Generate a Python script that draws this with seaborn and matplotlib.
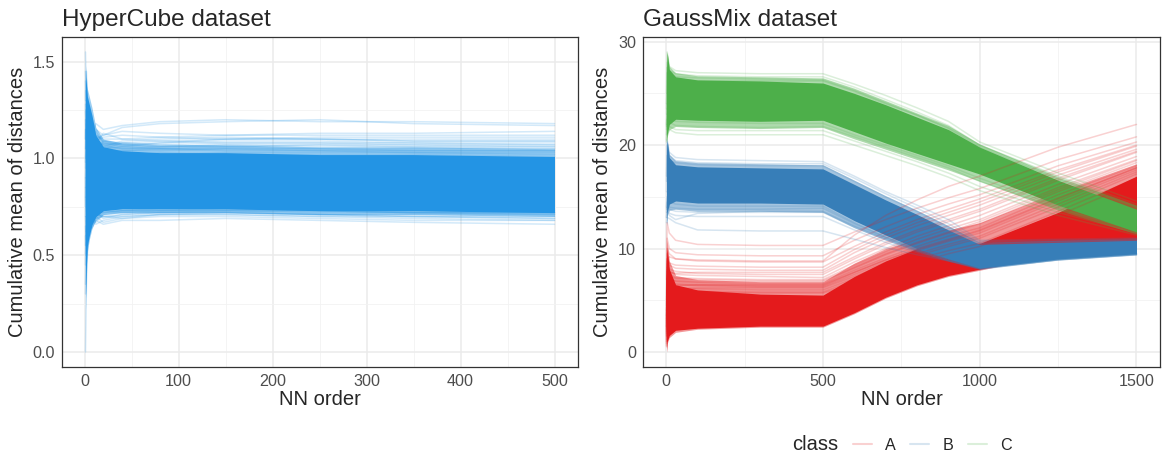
import pandas as pd
import matplotlib
matplotlib.use("Agg")
import matplotlib.pyplot as plt
from matplotlib.lines import Line2D
from matplotlib.ticker import MultipleLocator
import seaborn as sns

# ---------------- HyperCube panel ----------------
hc_x = [1, 2, 3, 5, 8, 12, 20, 40, 80, 150, 250, 350, 500]
# dense core of the bundle (where the lines merge to a solid colour)
hc_core_lo = [0.28, 0.45, 0.55, 0.60, 0.66, 0.70, 0.73, 0.74, 0.74, 0.74, 0.73, 0.73, 0.72]
hc_core_hi = [1.42, 1.38, 1.32, 1.28, 1.22, 1.12, 1.06, 1.04, 1.03, 1.03, 1.02, 1.02, 1.01]
# half-dense zone around the core
hc_halo_lo = [0.22, 0.40, 0.52, 0.58, 0.64, 0.68, 0.71, 0.72, 0.72, 0.72, 0.71, 0.71, 0.70]
hc_halo_hi = [1.48, 1.42, 1.36, 1.32, 1.26, 1.16, 1.10, 1.08, 1.07, 1.07, 1.06, 1.06, 1.05]
# single faint lines above the core
hc_upper = [
    [1.05, 1.20, 1.10, 1.15, 1.12, 1.18, 1.15, 1.17, 1.19, 1.20, 1.19, 1.19, 1.18],
    [0.90, 1.10, 1.25, 1.18, 1.20, 1.15, 1.12, 1.16, 1.18, 1.19, 1.20, 1.18, 1.17],
    [1.30, 1.45, 1.30, 1.22, 1.15, 1.10, 1.12, 1.14, 1.13, 1.12, 1.13, 1.13, 1.14],
    [1.55, 1.30, 1.20, 1.12, 1.08, 1.12, 1.10, 1.10, 1.11, 1.12, 1.12, 1.12, 1.12],
    [0.80, 1.00, 1.20, 1.25, 1.15, 1.08, 1.13, 1.10, 1.09, 1.10, 1.11, 1.11, 1.11],
    [1.20, 1.05, 1.10, 1.05, 1.10, 1.14, 1.08, 1.07, 1.08, 1.10, 1.10, 1.09, 1.09],
    [1.10, 1.25, 1.15, 1.08, 1.12, 1.06, 1.05, 1.08, 1.07, 1.08, 1.08, 1.08, 1.08],
    [0.95, 1.15, 1.05, 1.10, 1.04, 1.09, 1.07, 1.05, 1.06, 1.07, 1.07, 1.06, 1.06],
    [1.35, 1.20, 1.10, 1.02, 1.06, 1.04, 1.08, 1.06, 1.05, 1.06, 1.05, 1.05, 1.05],
    [1.00, 1.08, 1.18, 1.10, 1.02, 1.05, 1.03, 1.04, 1.04, 1.05, 1.04, 1.04, 1.04],
    [1.25, 1.10, 1.00, 1.08, 1.10, 1.02, 1.04, 1.03, 1.02, 1.03, 1.03, 1.03, 1.02],
    [0.70, 0.95, 1.12, 1.00, 1.05, 1.08, 1.02, 1.01, 1.03, 1.02, 1.02, 1.02, 1.01],
    [1.15, 1.00, 1.08, 1.12, 1.07, 1.03, 1.06, 1.09, 1.10, 1.11, 1.10, 1.10, 1.10],
    [0.85, 1.18, 1.02, 1.06, 1.09, 1.07, 1.05, 1.06, 1.08, 1.09, 1.09, 1.08, 1.07],
    [1.10, 1.30, 1.18, 1.10, 1.06, 1.08, 1.06, 1.05, 1.05, 1.04, 1.04, 1.03, 1.03],
    [1.40, 1.22, 1.12, 1.15, 1.08, 1.05, 1.09, 1.07, 1.06, 1.07, 1.06, 1.06, 1.05],
    [0.75, 1.12, 1.22, 1.05, 1.12, 1.10, 1.07, 1.08, 1.07, 1.06, 1.07, 1.07, 1.07],
    [1.28, 1.05, 1.15, 1.20, 1.06, 1.10, 1.05, 1.04, 1.05, 1.05, 1.05, 1.04, 1.04],
    [1.45, 1.35, 1.25, 1.10, 1.14, 1.09, 1.11, 1.12, 1.11, 1.10, 1.10, 1.09, 1.09],
    [0.98, 1.28, 1.08, 1.14, 1.05, 1.12, 1.09, 1.08, 1.09, 1.08, 1.08, 1.07, 1.06],
]
# single faint lines below the core
hc_lower = [
    [0.00, 0.35, 0.50, 0.62, 0.65, 0.68, 0.66, 0.68, 0.68, 0.69, 0.68, 0.67, 0.66],
    [0.30, 0.55, 0.60, 0.70, 0.66, 0.70, 0.67, 0.69, 0.70, 0.70, 0.69, 0.68, 0.68],
    [0.60, 0.50, 0.65, 0.62, 0.70, 0.66, 0.68, 0.70, 0.71, 0.71, 0.70, 0.70, 0.69],
    [0.45, 0.70, 0.58, 0.66, 0.64, 0.69, 0.70, 0.69, 0.71, 0.72, 0.71, 0.70, 0.70],
    [0.80, 0.62, 0.68, 0.60, 0.68, 0.72, 0.69, 0.71, 0.72, 0.72, 0.71, 0.71, 0.71],
    [0.55, 0.75, 0.66, 0.70, 0.72, 0.67, 0.71, 0.72, 0.73, 0.73, 0.72, 0.72, 0.71],
    [0.90, 0.70, 0.62, 0.68, 0.70, 0.73, 0.72, 0.73, 0.73, 0.74, 0.73, 0.72, 0.72],
    [0.65, 0.58, 0.72, 0.74, 0.69, 0.70, 0.74, 0.73, 0.74, 0.74, 0.74, 0.73, 0.73],
    [0.50, 0.65, 0.70, 0.64, 0.72, 0.70, 0.73, 0.72, 0.72, 0.73, 0.73, 0.72, 0.72],
    [0.70, 0.60, 0.64, 0.72, 0.66, 0.71, 0.70, 0.71, 0.72, 0.72, 0.71, 0.70, 0.69],
    [0.35, 0.68, 0.62, 0.66, 0.71, 0.69, 0.72, 0.73, 0.73, 0.73, 0.73, 0.72, 0.72],
    [0.85, 0.55, 0.70, 0.68, 0.67, 0.72, 0.70, 0.70, 0.71, 0.71, 0.70, 0.69, 0.68],
]

# ---------------- GaussMix panel ----------------
gm_x = [1, 3, 10, 30, 100, 300, 500, 600, 700, 800, 900, 1000, 1250, 1500]
classes = ["A", "B", "C"]

gm_a_lo = [0.0, 1.0, 1.6, 2.1, 2.3, 2.5, 2.5, 3.8, 5.3, 6.5, 7.4, 8.0, 9.6, 10.6]
gm_a_hi = [9.0, 10.0, 8.0, 6.5, 6.0, 5.6, 5.5, 7.3, 8.8, 10.0, 10.5, 10.5, 13.5, 17.0]
gm_a_halo_lo = [0.0, 0.8, 1.4, 1.9, 2.2, 2.4, 2.4, 3.7, 5.2, 6.4, 7.3, 7.9, 9.5, 10.5]
gm_a_halo_hi = [9.5, 10.8, 8.8, 7.4, 7.0, 6.8, 6.8, 8.6, 10.0, 11.0, 11.8, 12.5, 15.5, 18.2]
gm_b_lo = [12.2, 13.5, 14.3, 14.6, 14.4, 14.4, 14.3, 12.7, 11.3, 10.0, 9.0, 8.1, 9.0, 9.5]
gm_b_hi = [19.5, 20.5, 18.8, 18.1, 17.9, 17.8, 17.7, 16.2, 14.7, 13.3, 11.8, 10.4, 10.6, 10.8]
gm_b_halo_lo = [12.0, 13.2, 13.7, 13.8, 13.6, 13.6, 13.5, 12.0, 10.8, 9.7, 8.8, 8.0, 8.9, 9.4]
gm_b_halo_hi = [19.8, 20.5, 19.1, 18.5, 18.3, 18.2, 18.1, 16.6, 15.1, 13.7, 12.2, 10.6, 10.8, 10.9]
gm_c_lo = [20.3, 21.0, 22.0, 22.5, 22.4, 22.3, 22.4, 21.3, 20.2, 19.2, 18.2, 17.2, 14.2, 11.6]
gm_c_hi = [27.0, 29.0, 27.3, 26.6, 26.3, 26.2, 26.0, 25.0, 23.9, 22.7, 21.5, 19.8, 16.6, 13.8]
gm_c_halo_lo = [20.3, 20.8, 21.5, 21.8, 21.7, 21.6, 21.7, 20.6, 19.6, 18.6, 17.6, 16.5, 13.7, 11.4]
gm_c_halo_hi = [27.5, 29.0, 27.6, 27.0, 26.7, 26.6, 26.5, 25.5, 24.3, 23.1, 21.9, 20.1, 16.9, 14.2]

gm_a_lines = [
    [5.0, 9.0, 9.2, 9.0, 8.9, 8.8, 8.8, 11.3, 13.2, 14.7, 16.0, 17.0, 19.8, 22.0],
    [7.0, 12.5, 11.5, 10.8, 10.4, 10.3, 10.3, 11.6, 12.8, 13.9, 14.9, 15.8, 18.6, 20.8],
    [4.0, 10.0, 9.5, 9.0, 8.8, 8.7, 8.7, 10.2, 11.6, 12.8, 13.8, 14.8, 17.6, 20.0],
    [3.0, 8.5, 8.0, 7.8, 7.6, 7.5, 7.5, 9.0, 10.4, 11.6, 12.6, 13.6, 16.6, 19.3],
    [2.0, 8.0, 7.5, 7.2, 7.1, 7.0, 7.0, 8.4, 9.7, 10.9, 11.9, 12.8, 15.9, 18.6],
    [1.5, 7.5, 7.2, 6.8, 6.7, 6.6, 6.6, 7.9, 9.1, 10.2, 11.2, 12.0, 15.2, 18.0],
    [1.0, 7.0, 6.8, 6.5, 6.4, 6.3, 6.3, 7.5, 8.7, 9.8, 10.7, 11.5, 14.6, 17.6],
    [0.5, 6.8, 6.4, 6.2, 6.1, 6.0, 6.0, 7.1, 8.3, 9.3, 10.2, 11.0, 14.0, 17.2],
    [2.5, 9.5, 8.4, 8.1, 8.0, 7.9, 7.9, 9.6, 11.0, 12.2, 13.2, 14.2, 17.1, 19.6],
    [1.8, 8.8, 7.8, 7.5, 7.4, 7.3, 7.2, 8.7, 10.0, 11.2, 12.2, 13.2, 16.2, 18.9],
    [3.5, 7.2, 6.9, 6.6, 6.5, 6.4, 6.4, 7.7, 8.9, 10.0, 10.9, 11.8, 14.9, 17.8],
    [0.8, 6.5, 6.2, 6.0, 5.9, 5.8, 5.8, 6.9, 8.0, 9.0, 9.8, 10.5, 13.6, 16.8],
    [2.2, 7.8, 7.0, 6.9, 6.8, 6.8, 6.8, 8.1, 9.4, 10.5, 11.5, 12.4, 15.5, 18.3],
    [1.2, 6.2, 6.0, 5.9, 5.8, 5.7, 5.7, 6.6, 7.6, 8.6, 9.5, 10.2, 13.2, 16.4],
    [4.5, 11.0, 10.0, 9.6, 9.4, 9.3, 9.3, 10.8, 12.1, 13.3, 14.3, 15.2, 18.0, 20.3],
    [3.2, 9.0, 8.6, 8.4, 8.3, 8.2, 8.2, 9.9, 11.3, 12.5, 13.5, 14.5, 17.4, 19.9],
    [2.8, 8.2, 7.7, 7.6, 7.7, 7.7, 7.7, 9.2, 10.6, 11.8, 12.8, 13.8, 16.8, 19.4],
    [0.6, 6.0, 5.9, 6.1, 6.2, 6.2, 6.2, 7.3, 8.5, 9.5, 10.4, 11.2, 14.3, 17.4],
    [1.6, 7.1, 6.6, 6.4, 6.5, 6.5, 6.5, 7.7, 8.9, 9.9, 10.8, 11.7, 14.8, 17.8],
    [2.4, 7.4, 7.3, 7.1, 7.0, 6.9, 6.9, 8.2, 9.5, 10.6, 11.6, 12.6, 15.7, 18.5],
]
gm_b_lines = [
    [17.0, 20.5, 19.3, 18.8, 18.6, 18.5, 18.4, 17.0, 15.5, 14.2, 12.8, 10.8, 10.9, 11.0],
    [16.5, 20.0, 19.0, 18.5, 18.3, 18.2, 18.2, 16.8, 15.3, 13.9, 12.4, 10.7, 10.8, 10.9],
    [15.5, 19.0, 18.5, 18.3, 18.1, 18.0, 18.0, 16.5, 15.0, 13.6, 12.1, 10.6, 10.7, 10.9],
    [13.0, 14.0, 13.4, 13.2, 13.1, 13.1, 13.1, 11.8, 10.6, 9.6, 8.8, 8.0, 8.9, 9.4],
    [13.5, 14.5, 13.8, 13.6, 13.5, 13.5, 13.5, 12.1, 10.9, 9.8, 8.9, 8.1, 8.9, 9.4],
    [12.5, 13.0, 12.9, 12.5, 11.8, 11.7, 11.7, 10.9, 10.1, 9.4, 8.8, 8.2, 9.0, 9.5],
    [13.0, 13.5, 13.2, 12.8, 13.4, 13.6, 13.6, 12.2, 11.0, 9.9, 9.0, 8.2, 9.0, 9.5],
    [13.8, 15.0, 14.0, 13.9, 13.8, 13.8, 13.9, 12.4, 11.1, 10.0, 9.1, 8.2, 9.0, 9.5],
    [14.0, 15.5, 14.5, 14.3, 14.1, 14.1, 14.1, 12.5, 11.1, 9.9, 9.0, 8.1, 8.9, 9.4],
]
gm_c_lines = [
    [25.0, 29.0, 27.6, 27.2, 27.0, 26.9, 26.9, 25.9, 24.8, 23.6, 22.3, 20.3, 17.3, 14.6],
    [24.0, 28.0, 27.2, 26.9, 26.7, 26.6, 26.6, 25.6, 24.4, 23.2, 21.9, 20.0, 17.0, 14.3],
    [23.0, 27.0, 26.9, 26.6, 26.5, 26.4, 26.3, 25.3, 24.1, 22.9, 21.6, 19.8, 16.7, 14.0],
    [23.5, 27.5, 26.7, 26.4, 26.2, 26.2, 26.2, 25.2, 24.0, 22.9, 21.7, 20.0, 16.9, 14.1],
    [20.3, 22.0, 21.5, 21.2, 21.0, 21.0, 21.0, 20.0, 19.0, 18.0, 16.9, 15.6, 13.2, 11.3],
    [20.5, 22.5, 21.8, 21.5, 21.4, 21.4, 21.4, 20.4, 19.4, 18.4, 17.3, 16.0, 13.5, 11.5],
    [21.0, 23.0, 22.2, 21.9, 21.8, 21.7, 21.8, 20.8, 19.8, 18.8, 17.8, 16.5, 13.9, 11.7],
    [21.5, 24.0, 22.6, 22.3, 22.2, 22.1, 22.1, 21.0, 20.0, 19.0, 18.0, 16.8, 14.1, 11.9],
    [22.0, 23.5, 22.5, 22.6, 22.5, 22.5, 22.5, 21.5, 20.5, 19.5, 18.5, 17.4, 14.5, 12.0],
    [21.8, 25.0, 23.0, 22.7, 22.7, 22.6, 22.7, 21.6, 20.6, 19.6, 18.6, 17.5, 14.6, 12.1],
]

HC_COLOR = "#2394E4"
CLASS_COLORS = {"A": "#E41A1C", "B": "#377EB8", "C": "#4DAF4A"}
LINE_ALPHA = 0.2
HALO_ALPHA = 0.45
LINE_W = 1.1


def to_long(x, lines, label):
    rows = []
    for i, ys in enumerate(lines):
        for xv, yv in zip(x, ys):
            rows.append({"order": xv, "dist": yv, "line": f"{label}{i}", "class": label})
    return pd.DataFrame(rows)


def style_axis(ax, title):
    ax.set_facecolor("white")
    ax.grid(which="major", color="#EBEBEB", lw=1.1)
    ax.grid(which="minor", color="#F2F2F2", lw=0.6)
    ax.set_axisbelow(True)
    for s in ax.spines.values():
        s.set_visible(True)
        s.set_color("#333333")
        s.set_linewidth(0.9)
    ax.tick_params(which="major", length=3, width=0.8, color="#333333",
                   labelsize=11.6, labelcolor="#4D4D4D", pad=2)
    ax.tick_params(which="minor", length=0)
    ax.set_xlabel("NN order", fontsize=14.5, labelpad=1)
    ax.set_ylabel("Cumulative mean of distances", fontsize=14.5, labelpad=4)
    ax.set_title(title, loc="left", fontsize=17.5, pad=8)


sns.set_theme(style="white")
plt.rcParams["font.family"] = ["Liberation Sans", "DejaVu Sans"]

fig = plt.figure(figsize=(11.63, 4.62), dpi=100)
ax1 = fig.add_axes([62 / 1163, 1 - 367 / 462, 516 / 1163, 330 / 462])
ax2 = fig.add_axes([643 / 1163, 1 - 367 / 462, 517 / 1163, 330 / 462])

# left panel
ax1.fill_between(hc_x, hc_halo_lo, hc_halo_hi, color=HC_COLOR, alpha=HALO_ALPHA, lw=0)
ax1.fill_between(hc_x, hc_core_lo, hc_core_hi, color=HC_COLOR, lw=0)
hc_df = pd.concat([to_long(hc_x, hc_upper, "u"), to_long(hc_x, hc_lower, "l")])
sns.lineplot(data=hc_df, x="order", y="dist", units="line", estimator=None,
             color=HC_COLOR, alpha=LINE_ALPHA, lw=LINE_W, ax=ax1, legend=False)
ax1.set_xlim(-24, 525)
ax1.set_ylim(-0.0775, 1.6275)
ax1.xaxis.set_major_locator(MultipleLocator(100))
ax1.xaxis.set_minor_locator(MultipleLocator(50))
ax1.yaxis.set_minor_locator(MultipleLocator(0.25))
ax1.set_yticks([0, 0.5, 1.0, 1.5], ["0.0", "0.5", "1.0", "1.5"])
style_axis(ax1, "HyperCube dataset")

# right panel, classes drawn in order A, B, C
cores = {"A": (gm_a_lo, gm_a_hi), "B": (gm_b_lo, gm_b_hi), "C": (gm_c_lo, gm_c_hi)}
halos = {"A": (gm_a_halo_lo, gm_a_halo_hi), "B": (gm_b_halo_lo, gm_b_halo_hi),
         "C": (gm_c_halo_lo, gm_c_halo_hi)}
fringes = {"A": gm_a_lines, "B": gm_b_lines, "C": gm_c_lines}
for cl in classes:
    hlo, hhi = halos[cl]
    ax2.fill_between(gm_x, hlo, hhi, color=CLASS_COLORS[cl], alpha=HALO_ALPHA, lw=0)
    lo, hi = cores[cl]
    ax2.fill_between(gm_x, lo, hi, color=CLASS_COLORS[cl], lw=0)
    sns.lineplot(data=to_long(gm_x, fringes[cl], cl), x="order", y="dist", units="line",
                 estimator=None, color=CLASS_COLORS[cl], alpha=LINE_ALPHA, lw=LINE_W,
                 ax=ax2, legend=False)
ax2.set_xlim(-74, 1575)
ax2.set_ylim(-1.45, 30.45)
ax2.xaxis.set_major_locator(MultipleLocator(500))
ax2.xaxis.set_minor_locator(MultipleLocator(250))
ax2.yaxis.set_major_locator(MultipleLocator(10))
ax2.yaxis.set_minor_locator(MultipleLocator(5))
style_axis(ax2, "GaussMix dataset")

# legend at the bottom
handles = [Line2D([], [], color=CLASS_COLORS[c], alpha=LINE_ALPHA, lw=1.5) for c in classes]
fig.text(792 / 1163, 1 - 445 / 462, "class", fontsize=14.5, va="center", ha="left")
fig.legend(handles, classes, ncol=3, loc="center left", frameon=False,
           bbox_to_anchor=(838 / 1163, 1 - 445 / 462), fontsize=11.6,
           handlelength=1.2, handletextpad=0.8, columnspacing=0.9)

fig.savefig("out.png", dpi=100)
